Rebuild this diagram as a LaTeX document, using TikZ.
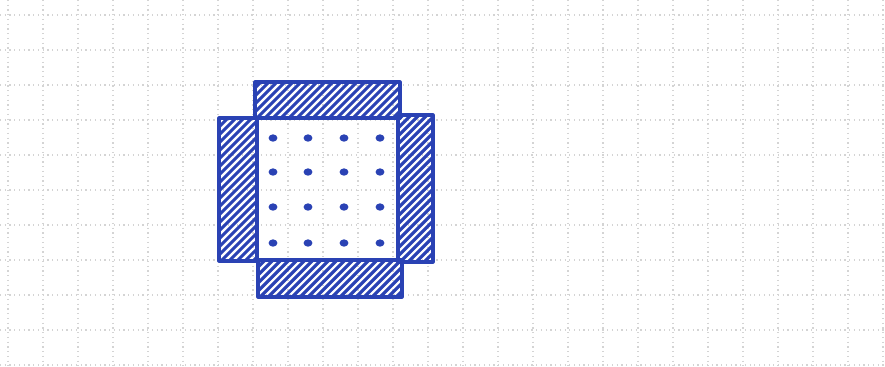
\documentclass[tikz,border=0pt]{standalone}
\usepackage{tikz}
\definecolor{pen}{RGB}{42,66,180}
\definecolor{gridgray}{RGB}{212,212,212}
\tikzset{
  flap/.style={draw=pen, line width=1.8pt, line join=round},
  hatch/.style={pen, line width=1.8pt},
  paper/.style={gridgray, dotted, line width=0.7pt}
}
\newcommand{\flapbox}[4]{%
  \begin{scope}
    \clip (#1,#2) rectangle (#3,#4);
    \foreach \s in {-150,-142,...,150}
      \draw[hatch] ({#1+\s},#4) -- ++(300,-300);
  \end{scope}
  \draw[flap] (#1,#2) rectangle (#3,#4);
}

\begin{document}
\begin{tikzpicture}[x=0.02cm,y=-0.02cm]
\useasboundingbox (0,0) rectangle (885,366);

% squared paper
\foreach \x in {8,43,...,883}
  \draw[paper] (\x,0) -- (\x,366);
\foreach \y in {15,50,...,365}
  \draw[paper] (0,\y) -- (885,\y);

% the four hatched flaps
\flapbox{255}{82}{400}{118}
\flapbox{219}{118}{257}{261}
\flapbox{398}{115}{433}{262}
\flapbox{258}{260}{402}{297}

% dots in the middle square
\foreach \x in {273,308,344,380}
  \foreach \y in {138,172,207,243}
    \fill[pen] (\x,\y) ellipse (2.5pt and 2.1pt);
\end{tikzpicture}
\end{document}
